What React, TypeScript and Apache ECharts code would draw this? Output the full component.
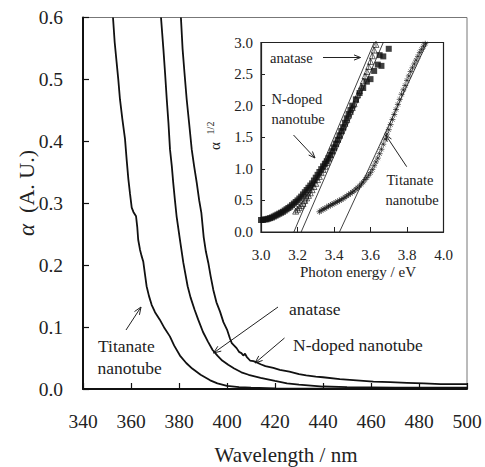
import React, { useEffect, useRef } from "react";
import * as echarts from "echarts";

// ---- Main plot data: wavelength (nm) vs absorption alpha (A.U.) ----
const titanateMain: [number, number][] = [
  [352.5, 0.6], [353.2, 0.56], [354.0, 0.528], [354.7, 0.5], [355.4, 0.468], [356.4, 0.436],
  [357.5, 0.404], [358.2, 0.37], [358.9, 0.339], [359.6, 0.315], [360.3, 0.293], [361.0, 0.286],
  [362.1, 0.279], [362.6, 0.262], [363.0, 0.241], [363.75, 0.225], [364.4, 0.215], [365.1, 0.206],
  [365.8, 0.186], [366.5, 0.166], [367.5, 0.15], [368.6, 0.136], [370.0, 0.124], [372.0, 0.112],
  [374.0, 0.098], [376.2, 0.085], [378.0, 0.07], [380.4, 0.054], [383.0, 0.042], [385.5, 0.033],
  [389.0, 0.023], [393.0, 0.014], [396.0, 0.009], [400.0, 0.005], [405.0, 0.003], [410.0, 0.002],
  [420.0, 0.001], [440.0, 0.0005], [470.0, 0.0], [500.0, 0.0],
];
const anataseMain: [number, number][] = [
  [372.5, 0.6], [373.5, 0.549], [374.2, 0.51], [374.9, 0.468], [375.6, 0.43], [376.25, 0.387],
  [377.0, 0.36], [377.6, 0.333], [378.3, 0.305], [379.0, 0.279], [380.4, 0.241], [381.8, 0.204],
  [383.6, 0.166], [384.8, 0.148], [386.5, 0.128], [388.0, 0.112], [390.0, 0.092], [392.0, 0.077],
  [394.0, 0.063], [396.0, 0.054], [398.0, 0.046], [400.5, 0.039], [403.0, 0.033], [406.0, 0.027],
  [409.0, 0.023], [414.0, 0.018], [420.0, 0.013], [425.0, 0.009], [430.0, 0.007], [440.0, 0.004],
  [450.0, 0.003], [470.0, 0.002], [500.0, 0.002],
];
const ndopedMain: [number, number][] = [
  [380.8, 0.6], [381.5, 0.549], [382.3, 0.51], [383.2, 0.468], [384.2, 0.43], [385.3, 0.387],
  [386.3, 0.36], [387.4, 0.333], [388.4, 0.305], [389.3, 0.285], [390.3, 0.245], [391.2, 0.222],
  [392.2, 0.204], [393.2, 0.182], [394.3, 0.16], [395.6, 0.14], [397.1, 0.125], [398.5, 0.108],
  [400.0, 0.096], [401.2, 0.082], [402.0, 0.074], [403.0, 0.07], [404.0, 0.066], [405.0, 0.06],
  [406.0, 0.058], [406.8, 0.054], [407.5, 0.057], [408.2, 0.052], [409.6, 0.046], [411.0, 0.045],
  [412.4, 0.043], [414.0, 0.04], [416.0, 0.037], [419.3, 0.034], [422.0, 0.031], [426.0, 0.028],
  [430.0, 0.024], [433.0, 0.022], [437.0, 0.02], [440.0, 0.019], [447.0, 0.016], [454.0, 0.014],
  [461.0, 0.012], [468.0, 0.011], [475.0, 0.01], [482.0, 0.009], [489.0, 0.008], [495.0, 0.008],
  [500.0, 0.008],
];

// ---- Inset data: photon energy (eV) vs alpha^1/2 ----
const ndopedInset: [number, number][] = [
  [3.0, 0.19], [3.01, 0.19], [3.02, 0.2], [3.03, 0.2], [3.04, 0.21], [3.05, 0.22], [3.06, 0.23],
  [3.07, 0.245], [3.08, 0.26], [3.09, 0.275], [3.1, 0.29], [3.11, 0.305], [3.12, 0.32], [3.13, 0.34],
  [3.14, 0.36], [3.15, 0.38], [3.16, 0.4], [3.17, 0.425], [3.18, 0.45], [3.19, 0.475], [3.2, 0.5],
  [3.21, 0.53], [3.22, 0.56], [3.23, 0.595], [3.24, 0.63], [3.25, 0.665], [3.26, 0.7], [3.27, 0.735],
  [3.28, 0.77], [3.29, 0.815], [3.3, 0.86], [3.31, 0.905], [3.32, 0.95], [3.33, 0.995], [3.34, 1.04],
  [3.35, 1.08], [3.36, 1.12], [3.37, 1.17], [3.38, 1.22], [3.39, 1.28], [3.4, 1.34], [3.41, 1.4],
  [3.42, 1.46], [3.43, 1.53], [3.44, 1.6], [3.45, 1.66], [3.46, 1.73], [3.47, 1.8], [3.48, 1.87],
  [3.49, 1.93], [3.5, 2.0], [3.52, 2.1], [3.54, 2.2], [3.56, 2.28], [3.58, 2.38], [3.6, 2.42],
  [3.62, 2.55], [3.64, 2.65], [3.66, 2.63], [3.65, 2.8], [3.67, 2.78], [3.7, 2.9],
];
const anataseInset: [number, number][] = [
  [3.19, 0.33], [3.2, 0.36], [3.21, 0.39], [3.22, 0.42], [3.23, 0.45], [3.24, 0.5], [3.25, 0.54],
  [3.26, 0.58], [3.27, 0.62], [3.28, 0.67], [3.29, 0.72], [3.3, 0.77], [3.31, 0.83], [3.32, 0.88],
  [3.33, 0.94], [3.34, 0.99], [3.35, 1.04], [3.36, 1.1], [3.37, 1.16], [3.38, 1.22], [3.39, 1.28],
  [3.4, 1.34], [3.41, 1.4], [3.42, 1.47], [3.43, 1.53], [3.44, 1.6], [3.45, 1.66], [3.46, 1.72],
  [3.47, 1.78], [3.48, 1.85], [3.49, 1.91], [3.5, 1.97], [3.51, 2.03], [3.52, 2.1], [3.53, 2.17],
  [3.54, 2.24], [3.55, 2.31], [3.56, 2.39], [3.57, 2.47], [3.58, 2.54], [3.59, 2.62], [3.6, 2.7],
  [3.61, 2.79], [3.62, 2.88], [3.63, 2.97],
];
const titanateInset: [number, number][] = [
  [3.32, 0.32], [3.33, 0.34], [3.34, 0.36], [3.35, 0.37], [3.36, 0.39], [3.37, 0.41], [3.38, 0.42],
  [3.39, 0.44], [3.4, 0.45], [3.41, 0.47], [3.42, 0.48], [3.43, 0.5], [3.44, 0.51], [3.45, 0.53],
  [3.46, 0.55], [3.47, 0.57], [3.48, 0.59], [3.49, 0.61], [3.5, 0.63], [3.51, 0.65], [3.52, 0.68],
  [3.53, 0.7], [3.54, 0.73], [3.55, 0.76], [3.56, 0.79], [3.57, 0.83], [3.58, 0.86], [3.59, 0.9],
  [3.6, 0.94], [3.61, 0.99], [3.62, 1.05], [3.63, 1.11], [3.64, 1.17], [3.65, 1.24], [3.66, 1.31],
  [3.67, 1.39], [3.68, 1.47], [3.69, 1.55], [3.7, 1.62], [3.71, 1.7], [3.72, 1.78], [3.73, 1.86],
  [3.74, 1.94], [3.75, 2.02], [3.76, 2.1], [3.77, 2.18], [3.78, 2.25], [3.79, 2.32], [3.8, 2.4],
  [3.81, 2.47], [3.82, 2.54], [3.83, 2.6], [3.84, 2.66], [3.85, 2.72], [3.86, 2.78], [3.87, 2.84],
  [3.88, 2.89], [3.89, 2.94], [3.9, 2.98],
];
// Tangent (extrapolation) lines
const anataseFit: [number, number][] = [[3.18, 0], [3.62, 3.0]];
const ndopedFit: [number, number][] = [[3.22, 0], [3.67, 3.0]];
const titanateFit: [number, number][] = [[3.43, 0], [3.91, 3.0]];

const FONT = "Liberation Serif";
const INK = "#222";

function arrow(x1: number, y1: number, x2: number, y2: number, head = 8) {
  const ang = Math.atan2(y2 - y1, x2 - x1);
  const a1 = ang + Math.PI - 0.38;
  const a2 = ang + Math.PI + 0.38;
  return [
    { type: "line", shape: { x1, y1, x2, y2 }, style: { stroke: INK, lineWidth: 1 } },
    {
      type: "polyline",
      shape: {
        points: [
          [x2 + head * Math.cos(a1), y2 + head * Math.sin(a1)],
          [x2, y2],
          [x2 + head * Math.cos(a2), y2 + head * Math.sin(a2)],
        ],
      },
      style: { stroke: INK, fill: "none", lineWidth: 1 },
    },
  ];
}

function txt(text: string, x: number, y: number, size: number, align = "left", extra: any = {}) {
  return {
    type: "text",
    x,
    y,
    ...extra,
    style: {
      text,
      fontFamily: FONT,
      fontSize: size,
      fill: INK,
      align,
      verticalAlign: "middle",
      ...(extra.style || {}),
    },
  };
}

export default function App() {
  const ref = useRef<HTMLDivElement>(null);
  useEffect(() => {
    document.body.style.margin = "0";
    const chart = echarts.init(ref.current!, null, { renderer: "svg" });
    const mainLine = (data: [number, number][]) => ({
      type: "line",
      xAxisIndex: 0,
      yAxisIndex: 0,
      data,
      showSymbol: false,
      lineStyle: { color: "#111", width: 1.8 },
      silent: true,
    });
    const fitLine = (data: [number, number][]) => ({
      type: "line",
      xAxisIndex: 1,
      yAxisIndex: 1,
      data,
      showSymbol: false,
      lineStyle: { color: "#111", width: 0.8 },
      silent: true,
      z: 1,
    });
    chart.setOption({
      animation: false,
      backgroundColor: "#fff",
      textStyle: { fontFamily: FONT },
      grid: [
        { left: 83, top: 17.5, right: 18, bottom: 78, show: true, borderColor: "#777", borderWidth: 1 },
        {
          left: 261, top: 42.5, right: 41.5, bottom: 235, show: true,
          borderColor: "#222", borderWidth: 1.2, backgroundColor: "#fff",
        },
      ],
      xAxis: [
        {
          type: "value", gridIndex: 0, min: 340, max: 500, interval: 20,
          axisLine: { show: true, onZero: false, lineStyle: { color: "#111", width: 2 } },
          axisTick: { show: true, inside: true, length: 6, lineStyle: { color: "#111", width: 1.2 } },
          axisLabel: { margin: 22, fontSize: 19.5, color: INK, fontFamily: FONT },
          splitLine: { show: false },
        },
        {
          type: "value", gridIndex: 1, min: 3.0, max: 4.0, interval: 0.2,
          axisLine: { show: true, onZero: false, lineStyle: { color: "#222", width: 1.2 } },
          axisTick: { show: true, inside: true, length: 5, lineStyle: { color: "#222", width: 1 } },
          axisLabel: { margin: 15, fontSize: 15, color: INK, fontFamily: FONT, formatter: (v: number) => v.toFixed(1) },
          splitLine: { show: false },
        },
      ],
      yAxis: [
        {
          type: "value", gridIndex: 0, min: 0, max: 0.6, interval: 0.1,
          axisLine: { show: true, onZero: false, lineStyle: { color: "#111", width: 2 } },
          axisTick: { show: true, inside: true, length: 6, lineStyle: { color: "#111", width: 1.2 } },
          axisLabel: { margin: 20, fontSize: 19.5, color: INK, fontFamily: FONT, formatter: (v: number) => v.toFixed(1) },
          splitLine: { show: false },
        },
        {
          type: "value", gridIndex: 1, min: 0, max: 3.0, interval: 0.5,
          axisLine: { show: true, onZero: false, lineStyle: { color: "#222", width: 1.2 } },
          axisTick: { show: true, inside: true, length: 4, lineStyle: { color: "#222", width: 1 } },
          axisLabel: { margin: 8, fontSize: 15, color: INK, fontFamily: FONT, formatter: (v: number) => v.toFixed(1) },
          splitLine: { show: false },
        },
      ],
      series: [
        mainLine(titanateMain),
        mainLine(anataseMain),
        mainLine(ndopedMain),
        fitLine(anataseFit),
        fitLine(ndopedFit),
        fitLine(titanateFit),
        {
          type: "scatter", xAxisIndex: 1, yAxisIndex: 1, data: ndopedInset,
          symbol: "rect", symbolSize: 6, itemStyle: { color: "#111" }, silent: true, z: 3,
        },
        {
          type: "scatter", xAxisIndex: 1, yAxisIndex: 1, data: anataseInset,
          symbol: "path://M5,0L10,9L0,9ZM5,0L5,9", symbolSize: 6,
          itemStyle: { color: "rgba(0,0,0,0)", borderColor: "#111", borderWidth: 0.8 }, silent: true, z: 4,
        },
        {
          type: "scatter", xAxisIndex: 1, yAxisIndex: 1, data: titanateInset,
          symbol: "path://M0,5L10,5M5,0L5,10M1.5,1.5L8.5,8.5M8.5,1.5L1.5,8.5", symbolSize: 6,
          itemStyle: { color: "#111", borderColor: "#111", borderWidth: 0.8 }, silent: true, z: 4,
        },
      ],
      graphic: [
        // Axis titles
        txt("Wavelength / nm", 286, 455, 21, "center"),
        {
          type: "text",
          x: 26,
          y: 193,
          rotation: Math.PI / 2,
          style: {
            text: "{a|α}  (A. U.)",
            fontFamily: FONT,
            fontSize: 22,
            fill: INK,
            align: "center",
            verticalAlign: "middle",
            rich: { a: { fontStyle: "italic", fontFamily: FONT, fontSize: 23, fill: INK } },
          },
        },
        txt("Photon energy / eV", 358, 272, 15, "center"),
        txt("α", 215, 146, 15, "center", { rotation: Math.PI / 2 }),
        txt("1/2", 210.5, 128, 10, "center", { rotation: Math.PI / 2 }),
        // Main annotations
        txt("Titanate", 98, 346, 17.5),
        txt("nanotube", 97.5, 367.5, 17.5),
        txt("anatase", 289, 309, 17.5),
        txt("N-doped nanotube", 293, 345, 17.5),
        ...arrow(126, 330, 141, 307),
        ...arrow(278, 307, 213.5, 353),
        ...arrow(284.5, 338, 255, 363),
        // Inset annotations
        txt("anatase", 270, 57.5, 14.5),
        txt("N-doped", 271.5, 99, 14.5),
        txt("nanotube", 271.5, 118.5, 14.5),
        txt("Titanate", 386.5, 180, 14.5),
        txt("nanotube", 385.5, 199.5, 14.5),
        ...arrow(323, 57.5, 360.5, 57.5, 7),
        ...arrow(293.5, 135, 315, 158, 7),
        ...arrow(406.7, 166.7, 385.7, 135, 7),
      ],
    });
    return () => chart.dispose();
  }, []);
  return (
    <div
      ref={ref}
      style={{ position: "fixed", left: 0, top: 0, width: 485, height: 467, background: "#fff" }}
    />
  );
}
